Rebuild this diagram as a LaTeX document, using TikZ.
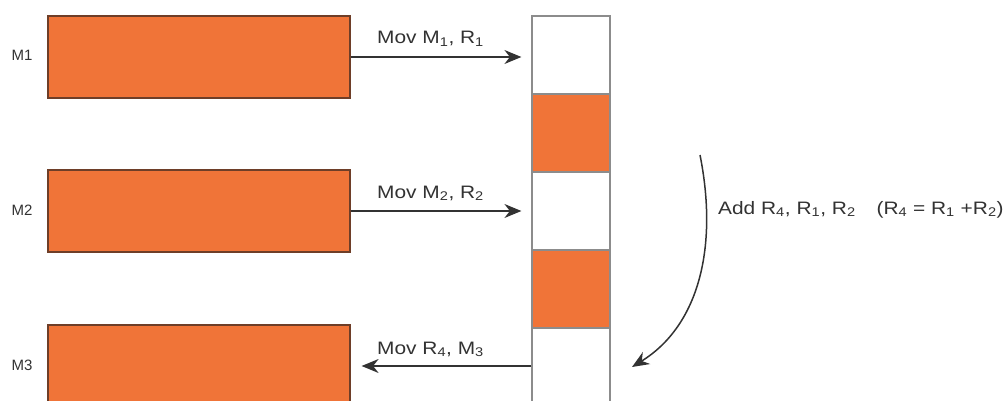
\documentclass[tikz,border=0pt]{standalone}
\usepackage{fontspec}
\setmainfont{Liberation Sans}
\usetikzlibrary{arrows.meta}
\definecolor{memfill}{RGB}{240,116,56}
\definecolor{memedge}{RGB}{110,62,40}
\definecolor{regedge}{RGB}{140,140,140}
\definecolor{ink}{RGB}{50,50,50}
\newcommand{\lowix}[1]{\textsubscript{#1}}
\newcommand{\wide}[1]{\scalebox{1.16}[1]{#1}}
\tikzset{
  membox/.style={draw=memedge, line width=1.2pt, fill=memfill, minimum width=302pt, minimum height=82pt, inner sep=0pt},
  regcell/.style={draw=regedge, line width=1.2pt, minimum width=78pt, minimum height=78pt, inner sep=0pt},
  regfull/.style={regcell, fill=memfill},
  flow/.style={draw=ink, line width=1.5pt, -{Stealth[length=17pt, width=14pt]}},
  lbl/.style={font=\fontsize{18}{20}\selectfont, text=ink, inner sep=0pt},
  side/.style={font=\fontsize{15}{17}\selectfont, text=ink, inner sep=0pt},
}
\begin{document}
\begin{tikzpicture}[x=1pt, y=-1pt]
\useasboundingbox (0,0) rectangle (1006,401);
% memory locations
\node[membox] (m1) at (199,57) {};
\node[membox] (m2) at (199,211) {};
\node[membox] (m3) at (199,366) {};
\node[side] (l1) at (22,55) {M1};
\node[side] (l2) at (22,210) {M2};
\node[side] (l3) at (22,365) {M3};
% register file
\node[regcell] (c1) at (571,55) {};
\node[regfull] (c2) at (571,133) {};
\node[regcell] (c3) at (571,211) {};
\node[regfull] (c4) at (571,289) {};
\node[regcell] (c5) at (571,367) {};
% transfers
\draw[flow, shorten >=10pt] (m1.east) -- (c1.west |- m1.east);
\draw[flow, shorten >=10pt] (m2.east) -- (c3.west |- m2.east);
\draw[flow, shorten >=11pt] (c5.west |- m3.east) -- (m3.east);
\node[lbl, anchor=base west] (t1) at (377,44) {\wide{Mov M\lowix{1}, R\lowix{1}}};
\node[lbl, anchor=base west] (t2) at (377,198) {\wide{Mov M\lowix{2}, R\lowix{2}}};
\node[lbl, anchor=base west] (t3) at (377,354) {\wide{Mov R\lowix{4}, M\lowix{3}}};
% addition
\coordinate (s) at (700,155);
\coordinate (e) at (632,367);
\draw[flow] (s) .. controls (718,245) and (700,325) .. (e);
\node[lbl, anchor=base west] (t4) at (718,214) {\wide{Add R\lowix{4}, R\lowix{1}, R\lowix{2}\quad (R\lowix{4} = R\lowix{1} +R\lowix{2})}};
\end{tikzpicture}
\end{document}
